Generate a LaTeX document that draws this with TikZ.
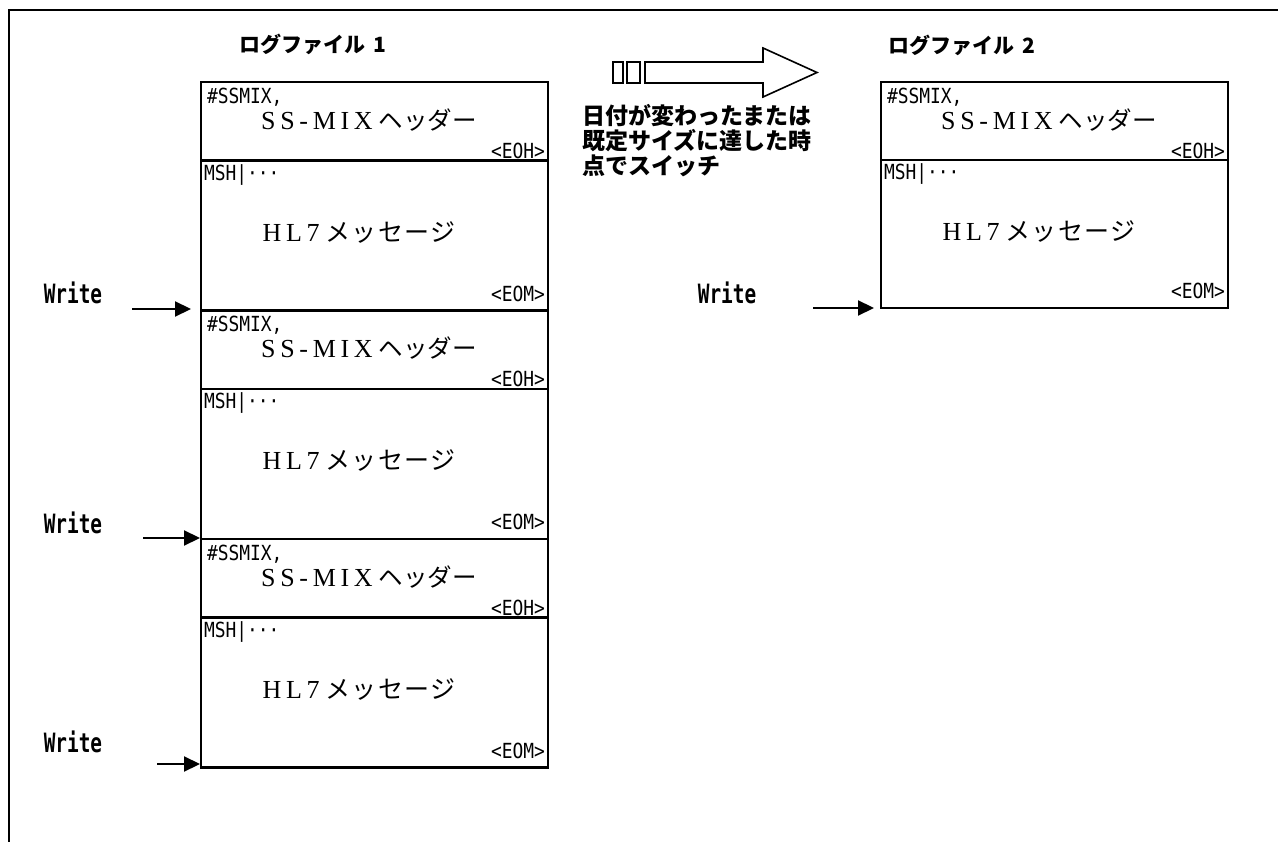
\documentclass[tikz,border=0pt]{standalone}
\usepackage{fontspec}
\usetikzlibrary{arrows.meta}
\newfontfamily\jp{Noto Sans CJK JP}
\newfontfamily\jpsp[LetterSpace=5]{Noto Sans CJK JP}
\newfontfamily\mono{DejaVu Sans Mono}
\newfontfamily\lser[LetterSpace=18]{Liberation Serif}
\newcommand\smalltxt[1]{\scalebox{1.12}[1.3]{\mono\fontsize{16}{16}\selectfont #1}}
\newcommand\writetxt{\scalebox{1.02}[1.4]{\mono\bfseries\fontsize{19}{19}\selectfont Write}}
\newcommand\hdrcontent[1]{%
  \node[anchor=north west, txt] (#1-a) at ([shift={(6,6)}]#1.north west) {\smalltxt{\#SSMIX,}};
  \node[txt] (#1-b) at ([shift={(168,38)}]#1.north west) {\lser\fontsize{26}{26}\selectfont SS-MIX\hspace{6pt}\jp\fontsize{24.5}{24.5}\selectfont ヘッダー};
  \node[anchor=east, txt] (#1-c) at ([shift={(-3,-10)}]#1.south east) {\smalltxt{<EOH>}};
}
\newcommand\msgcontent[1]{%
  \node[anchor=north west, txt] (#1-a) at ([shift={(3,4)}]#1.north west) {\smalltxt{MSH|···}};
  \node[txt] (#1-b) at ([shift={(158,72)}]#1.north west) {\lser\fontsize{26}{26}\selectfont HL7\hspace{6pt}\jpsp\fontsize{25}{25}\selectfont メッセージ};
  \node[anchor=east, txt] (#1-c) at ([shift={(-3,-17)}]#1.south east) {\smalltxt{<EOM>}};
}
\begin{document}
\begin{tikzpicture}[x=1pt,y=-1pt,
  txt/.style={inner sep=0pt, outer sep=0pt},
  sec/.style={draw=black, line width=2.2pt, fill=white, minimum width=347pt, inner sep=0pt, outer sep=0pt, anchor=north west},
  hdr/.style={sec, minimum height=78.5pt},
  msg/.style={sec, minimum height=150pt},
  ttl/.style={txt, font=\jp\bfseries\fontsize{21}{21}\selectfont},
  arr/.style={line width=2.2pt, -{Triangle[length=16pt,width=15pt]}},
  blk/.style={draw=black, line width=1.6pt, fill=white}]
\useasboundingbox (0,0) rectangle (1278,842);
\fill[white] (0,0) rectangle (1278,842);
% outer frame
\draw[line width=2.2pt] (9,842) -- (9,10) -- (1278,10);
% titles
\node[ttl, anchor=west] (t1) at (239,44) {ログファイル\hspace{9pt}1};
\node[ttl, anchor=west] (t2) at (888,45) {ログファイル\hspace{9pt}2};
% left file
\node[hdr] (h1) at (201,82) {};
\node[msg] (m1) at (201,160.5) {};
\node[hdr] (h2) at (201,310.5) {};
\node[msg] (m2) at (201,389) {};
\node[hdr] (h3) at (201,539) {};
\node[msg] (m3) at (201,617.5) {};
\hdrcontent{h1}\msgcontent{m1}
\hdrcontent{h2}\msgcontent{m2}
\hdrcontent{h3}\msgcontent{m3}
% right file
\node[hdr] (rh) at (881,82) {};
\node[sec, minimum height=148pt] (rm) at (881,160) {};
\hdrcontent{rh}\msgcontent{rm}
% switch arrow
\draw[blk] (613,62) rectangle (623,83);
\draw[blk] (627,62) rectangle (640,83);
\draw[blk] (645,62) -- (763,62) -- (763,48) -- (817,72.5) -- (763,97) -- (763,83) -- (645,83) -- cycle;
\node[txt, anchor=north west, align=left, font=\jp\bfseries\fontsize{23}{25}\selectfont] (note) at (582,104)
  {日付が変わったまたは\\既定サイズに達した時\\点でスイッチ};
% write labels and arrows
\node[txt] (w1) at (73,293) {\writetxt};
\node[txt] (w2) at (73,523) {\writetxt};
\node[txt] (w3) at (73,742) {\writetxt};
\node[txt] (w4) at (727,293) {\writetxt};
\coordinate (a1s) at (132,309); \coordinate (a1e) at (191,309);
\coordinate (a2s) at (143,538); \coordinate (a2e) at (200,538);
\coordinate (a3s) at (157,764); \coordinate (a3e) at (200,764);
\coordinate (a4s) at (813,308); \coordinate (a4e) at (874,308);
\draw[arr] (a1s) -- (a1e);
\draw[arr] (a2s) -- (a2e);
\draw[arr] (a3s) -- (a3e);
\draw[arr] (a4s) -- (a4e);
\end{tikzpicture}
\end{document}
